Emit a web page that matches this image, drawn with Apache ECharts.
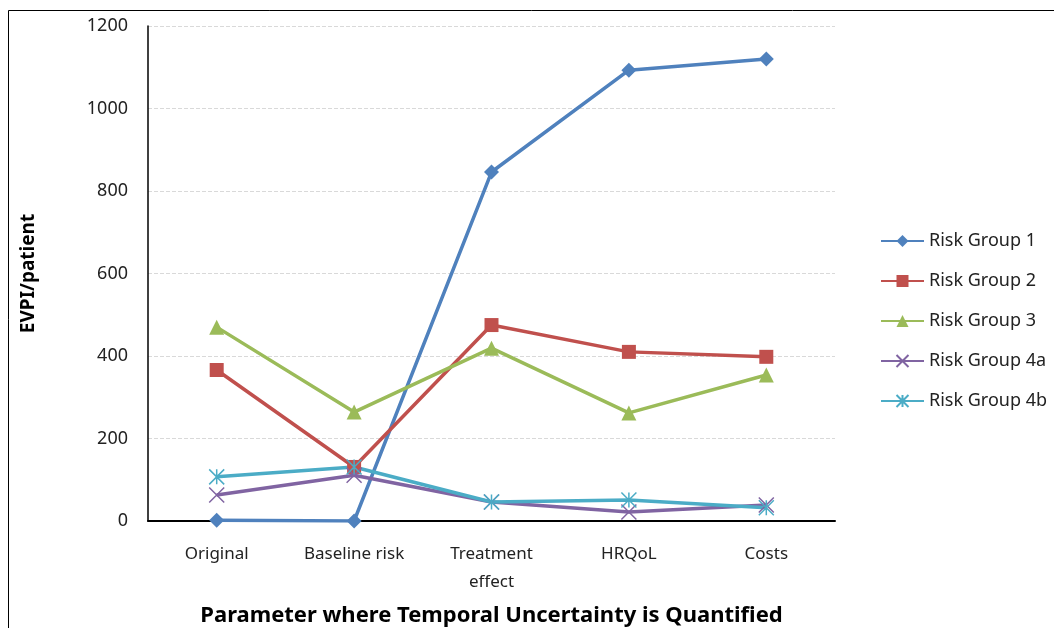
<!DOCTYPE html>
<html><head><meta charset="utf-8">
<script src="https://cdn.jsdelivr.net/npm/echarts@6/dist/echarts.min.js"></script>
<style>html,body{margin:0;padding:0;background:#fff}#c{width:1054px;height:628px}</style>
</head><body><div id="c"></div>
<script>
const categories = ['Original', 'Baseline risk', 'Treatment\neffect', 'HRQoL', 'Costs'];
const seriesNames = ['Risk Group 1', 'Risk Group 2', 'Risk Group 3', 'Risk Group 4a', 'Risk Group 4b'];
const rg1 = [2, 0, 846, 1093, 1120];
const rg2 = [366, 131, 475, 410, 398];
const rg3 = [470, 264, 419, 262, 354];
const rg4a = [63, 111, 46, 22, 39];
const rg4b = [107, 131, 46, 51, 32];
const yTicks = [0, 200, 400, 600, 800, 1000, 1200];

const colors = ['#4F81BD', '#C0504D', '#9BBB59', '#8064A2', '#4BACC6'];
const xPath = 'path://M0,0L10,10M10,0L0,10';
const starPath = 'path://M0,0L10,10M10,0L0,10M5,0L5,10';
const symbols = ['diamond', 'rect', 'triangle', xPath, starPath];
const sizes = [15, 14, 15, 15, 15];
const data = [rg1, rg2, rg3, rg4a, rg4b];
const font = '"Noto Sans", "Liberation Sans", sans-serif';

const chart = echarts.init(document.getElementById('c'));
chart.setOption({
  animation: false,
  textStyle: {fontFamily: font},
  graphic: [
    {type: 'line', shape: {x1: 8.5, y1: 10.5, x2: 1054, y2: 10.5}, style: {stroke: '#000', lineWidth: 1}},
    {type: 'line', shape: {x1: 8.5, y1: 10.5, x2: 8.5, y2: 628}, style: {stroke: '#000', lineWidth: 1}}
  ],
  grid: {left: 148, right: 219, top: 26, bottom: 107, containLabel: false, outerBoundsMode: 'none'},
  legend: {
    orient: 'vertical', left: 880, top: 232, padding: 0, itemWidth: 43, itemHeight: 15, itemGap: 22,
    textStyle: {fontSize: 18, color: '#222', fontFamily: font},
    data: seriesNames
  },
  xAxis: {
    type: 'category', data: categories, boundaryGap: true,
    axisLine: {lineStyle: {color: '#000', width: 2}},
    axisTick: {show: false},
    axisLabel: {fontSize: 17, color: '#222', margin: 19, lineHeight: 28, interval: 0, hideOverlap: false},
    name: 'Parameter where Temporal Uncertainty is Quantified',
    nameLocation: 'middle', nameGap: 84,
    nameTextStyle: {fontSize: 22, fontWeight: 'bold', color: '#000'}
  },
  yAxis: {
    type: 'value', min: 0, max: 1200, interval: 200,
    axisLine: {show: true, lineStyle: {color: '#000', width: 1.5}},
    axisTick: {show: false},
    axisLabel: {fontSize: 18, color: '#222', margin: 20, formatter: v => String(v)},
    splitLine: {lineStyle: {color: '#d9d9d9', type: 'dashed'}},
    name: 'EVPI/patient', nameLocation: 'middle', nameGap: 110,
    nameTextStyle: {fontSize: 19, fontWeight: 'bold', color: '#000'}
  },
  series: seriesNames.map((n, i) => ({
    name: n, type: 'line', data: data[i],
    symbol: symbols[i], symbolSize: sizes[i], showAllSymbol: true,
    lineStyle: {color: colors[i], width: 3.5},
    itemStyle: {color: colors[i], borderColor: colors[i], borderWidth: i >= 3 ? 1.5 : 0},
    emphasis: {disabled: true}
  }))
});
</script></body></html>
